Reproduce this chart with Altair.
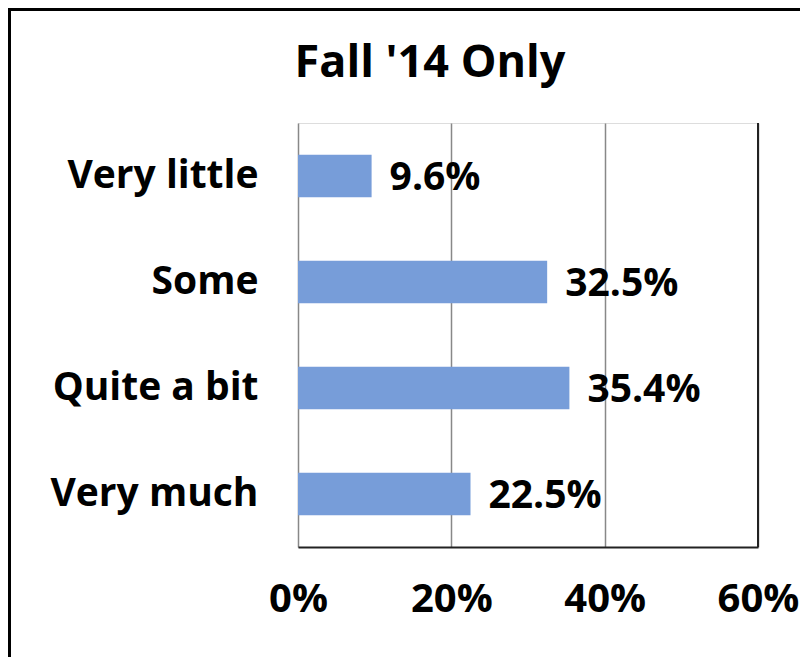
import altair as alt
import pandas as pd

categories = ["Very little", "Some", "Quite a bit", "Very much"]
values = [0.096, 0.325, 0.354, 0.225]
labels = ["9.6%", "32.5%", "35.4%", "22.5%"]
title_text = "Fall '14 Only"

df = pd.DataFrame({"cat": categories, "val": values, "lab": labels})
tdf = pd.DataFrame({"t": [title_text]})

W, H = 460, 424
FONT = "Open Sans"

y_enc = alt.Y("cat:N", sort=categories, title=None,
              scale=alt.Scale(paddingInner=0.6, paddingOuter=0.3),
              axis=alt.Axis(labelFont=FONT, labelFontSize=39, labelFontWeight="bold",
                            labelColor="black", labelPadding=40, ticks=False,
                            domain=False, labelLimit=400))
x_enc = alt.X("val:Q", title=None,
              scale=alt.Scale(domain=[0, 0.6], nice=False, zero=True),
              axis=alt.Axis(values=[0, 0.2, 0.4, 0.6], format=".0%",
                            labelFont=FONT, labelFontSize=40, labelFontWeight="bold",
                            labelColor="black", labelPadding=32, ticks=False,
                            domain=True, domainColor="#222222", domainWidth=2,
                            grid=True, gridColor="#888888", gridWidth=1.5,
                            labelFlush=False, labelOverlap=False))

bars = alt.Chart(df).mark_bar(color="#779DD9").encode(x=x_enc, y=y_enc)

text = alt.Chart(df).mark_text(align="left", baseline="middle", dx=18, dy=2,
                               font=FONT, fontSize=39, fontWeight="bold",
                               color="black").encode(
    x="val:Q", y=alt.Y("cat:N", sort=categories), text="lab:N")

title_mark = alt.Chart(tdf).mark_text(align="center", baseline="alphabetic",
                                      font=FONT, fontSize=45, fontWeight="bold",
                                      color="black", clip=False).encode(
    text="t:N", x=alt.value(132), y=alt.value(-46))

right_edge = alt.Chart(df).mark_rule(color="#222222", strokeWidth=2).encode(
    x=alt.datum(0.6), y=alt.value(0), y2=alt.value(H))

# outer frame of the chart
frame_left = alt.Chart(df).mark_rule(color="black", strokeWidth=3, clip=False).encode(
    x=alt.value(-288.5), y=alt.value(-115), y2=alt.value(H + 200))
frame_top = alt.Chart(df).mark_rule(color="black", strokeWidth=3, clip=False).encode(
    x=alt.value(-290), x2=alt.value(W + 100), y=alt.value(-113.5))

chart = alt.layer(bars, text, title_mark, right_edge, frame_left, frame_top).properties(
    width=W, height=H,
    autosize=alt.AutoSizeParams(type="none"),
    padding={"left": 290, "top": 115, "right": 42, "bottom": 110},
).configure_view(stroke="#888888", strokeWidth=2).configure(background="white")

chart.save("out.html", embed_options={"renderer": "svg", "actions": False})
